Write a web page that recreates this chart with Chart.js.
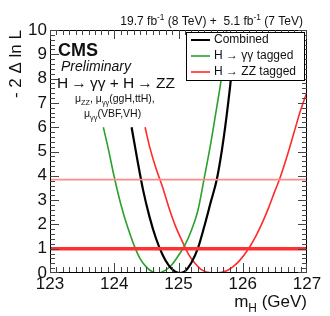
<!DOCTYPE html>
<html>
<head>
<meta charset="utf-8">
<script src="https://cdn.jsdelivr.net/npm/chart.js@4"></script>
<style>
  html, body { margin: 0; padding: 0; background: #fff; }
  #wrap { width: 330px; height: 316px; }
</style>
</head>
<body>
<div id="wrap"><canvas id="nllScan" width="330" height="316"></canvas></div>
<script>
// likelihood scan, values
var combinedMass = [124.27, 124.35, 124.45, 124.55, 124.65, 124.75, 124.85, 124.95, 125.02, 125.10, 125.20, 125.30, 125.40, 125.50, 125.60, 125.70, 125.80, 125.88];
var combinedNll  = [6.0, 4.8, 3.4, 2.3, 1.42, 0.76, 0.30, 0.05, 0.0, 0.07, 0.42, 1.0, 1.9, 2.9, 3.9, 5.5, 7.6, 9.6];

var ggMass = [123.83, 123.90, 124.00, 124.10, 124.20, 124.30, 124.40, 124.50, 124.60, 124.67, 124.80, 124.90, 125.00, 125.10, 125.20, 125.30, 125.40, 125.50, 125.60, 125.66, 125.75];
var ggNll  = [6.0, 5.2, 3.95, 2.85, 1.95, 1.2, 0.6, 0.24, 0.04, 0.0, 0.12, 0.35, 0.72, 1.15, 1.75, 2.55, 3.9, 5.3, 6.9, 7.9, 10.0];

var zzMass = [124.48, 124.55, 124.65, 124.75, 124.85, 124.95, 125.05, 125.15, 125.25, 125.35, 125.45, 125.60, 125.75, 125.85, 125.95, 126.09, 126.20, 126.30, 126.40, 126.50, 126.57, 126.70, 126.80, 126.90, 127.00];
var zzNll  = [6.0, 5.2, 4.3, 3.55, 2.7, 1.95, 1.35, 0.8, 0.42, 0.15, 0.03, 0.0, 0.09, 0.26, 0.51, 1.0, 1.5, 2.04, 2.67, 3.37, 3.84, 4.9, 5.8, 6.7, 7.45];

var clLevels = [1, 3.84];   // 68% and 95% CL lines
var massTicks = [123, 124, 125, 126, 127];
var nllTicks = [0, 1, 2, 3, 4, 5, 6, 7, 8, 9, 10];

var legendItems = [
  { label: "Combined", color: "#000000", width: 2 },
  { label: "H \u2192 \u03b3\u03b3 tagged", color: "#2ca02c", width: 1.6 },
  { label: "H \u2192 ZZ tagged", color: "#ff2a2a", width: 1.6 }
];

function toPoints(xs, ys) {
  var pts = [];
  for (var i = 0; i < xs.length; i++) pts.push({ x: xs[i], y: ys[i] });
  return pts;
}

var FONT = "'Liberation Sans', Arial, sans-serif";

// text with a subscript / superscript piece
function richText(ctx, parts, x, y, size) {
  var cx = x;
  parts.forEach(function (p) {
    var s = p.sub || p.sup ? size * 0.7 : size;
    var dy = p.sub ? size * 0.3 : (p.sup ? -size * 0.4 : 0);
    ctx.font = (p.style || "") + " " + s + "px " + FONT;
    ctx.fillText(p.t, cx, y + dy);
    cx += ctx.measureText(p.t).width;
  });
  return cx;
}

function measureRich(ctx, parts, size) {
  var w = 0;
  parts.forEach(function (p) {
    var s = p.sub || p.sup ? size * 0.7 : size;
    ctx.font = (p.style || "") + " " + s + "px " + FONT;
    w += ctx.measureText(p.t).width;
  });
  return w;
}

var rootStyle = {
  id: "rootStyle",
  afterDraw: function (chart) {
    var ctx = chart.ctx;
    var a = chart.chartArea;
    var xs = chart.scales.x, ys = chart.scales.y;
    var L = Math.round(a.left), R = Math.round(a.right) - 1;
    var T = Math.round(a.top), B = Math.round(a.bottom) - 1;
    ctx.save();

    // frame
    ctx.fillStyle = "#000";
    ctx.fillRect(L, T, R - L + 1, 1);
    ctx.fillRect(L, B, R - L + 1, 1);
    ctx.fillRect(L, T, 1, B - T + 1);
    ctx.fillRect(R, T, 1, B - T + 1);

    // ticks on all four sides, pointing inward
    ctx.fillStyle = "#444";
    for (var i = 0; i <= 40; i++) {
      var px = Math.min(R, Math.round(xs.getPixelForValue(massTicks[0] + i * 0.1)));
      var len = i % 10 === 0 ? 9 : 5;
      ctx.fillRect(px, B - len, 1, len);
      ctx.fillRect(px, T, 1, len);
    }
    for (var j = 0; j <= 50; j++) {
      var py = Math.min(B, Math.round(ys.getPixelForValue(j * 0.2)));
      var l2 = j % 5 === 0 ? 9 : 5;
      ctx.fillRect(L, py, l2, 1);
      ctx.fillRect(R - l2 + 1, py, l2, 1);
    }

    // tick labels
    ctx.fillStyle = "#111";
    ctx.font = "17px " + FONT;
    ctx.textAlign = "right";
    ctx.textBaseline = "middle";
    nllTicks.forEach(function (t) {
      ctx.fillText(String(t), a.left - 3, ys.getPixelForValue(t));
    });
    ctx.textAlign = "center";
    ctx.textBaseline = "top";
    massTicks.forEach(function (t) {
      ctx.fillText(String(t), xs.getPixelForValue(t), a.bottom + 3);
    });

    // axis titles
    ctx.textBaseline = "alphabetic";
    ctx.textAlign = "left";
    var xt = [{ t: "m" }, { t: "H", sub: true }, { t: " (GeV)" }];
    var w = measureRich(ctx, xt, 17);
    ctx.fillStyle = "#111";
    richText(ctx, xt, a.right - w, 307, 17);

    ctx.save();
    ctx.translate(21, a.top);
    ctx.rotate(-Math.PI / 2);
    ctx.font = "17px " + FONT;
    ctx.textAlign = "right";
    ctx.fillText("- 2 \u0394 ln L", 0, 0);
    ctx.restore();

    // luminosity label
    ctx.textAlign = "left";
    var lumi = [{ t: "19.7 fb" }, { t: "-1", sup: true }, { t: " (8 TeV) +  5.1 fb" }, { t: "-1", sup: true }, { t: " (7 TeV)" }];
    var lw = measureRich(ctx, lumi, 12);
    richText(ctx, lumi, 303 - lw, 25, 12);

    // CMS labels
    ctx.font = "bold 18px " + FONT;
    ctx.fillText("CMS", 58, 56);
    ctx.font = "italic 14px " + FONT;
    ctx.fillText("Preliminary", 61, 71);
    ctx.font = "15.5px " + FONT;
    ctx.fillText("H\u2009\u2192\u2009\u03b3\u03b3 + H\u2009\u2192\u2009ZZ", 57, 88);
    richText(ctx, [{ t: "\u03bc" }, { t: "ZZ", sub: true }, { t: ", \u03bc" }, { t: "\u03b3\u03b3", sub: true }, { t: "(ggH,ttH)," }], 75, 102, 10.5);
    richText(ctx, [{ t: "\u03bc" }, { t: "\u03b3\u03b3", sub: true }, { t: "(VBF,VH)" }], 84, 117, 10.5);

    // legend box drawn over the curves
    var lx = 186, ly = 32, lwid = 118, lh = 48;
    ctx.fillStyle = "#fff";
    ctx.fillRect(lx, ly, lwid, lh);
    ctx.strokeStyle = "#000";
    ctx.lineWidth = 1;
    ctx.strokeRect(lx + 0.5, ly + 0.5, lwid, lh);
    ctx.font = "12px " + FONT;
    ctx.textBaseline = "middle";
    legendItems.forEach(function (it, i) {
      var yy = 40 + i * 16;
      ctx.strokeStyle = it.color;
      ctx.lineWidth = it.width;
      ctx.beginPath();
      ctx.moveTo(191, yy); ctx.lineTo(210, yy);
      ctx.stroke();
      ctx.fillStyle = "#111";
      ctx.fillText(it.label, 214, yy);
    });

    ctx.restore();
  }
};

new Chart("nllScan", {
  type: "line",
  data: {
    datasets: [
      {
        label: "CL 68",
        data: toPoints([123, 127], [clLevels[0], clLevels[0]]),
        borderColor: "#ff3030",
        borderWidth: 3.5,
        order: 0
      },
      {
        label: "CL 95",
        data: toPoints([123, 127], [clLevels[1], clLevels[1]]),
        borderColor: "#ff8a8a",
        borderWidth: 1.8,
        order: 1
      },
      {
        label: legendItems[0].label,
        data: toPoints(combinedMass, combinedNll),
        borderColor: legendItems[0].color,
        borderWidth: 2.2,
        cubicInterpolationMode: "monotone",
        order: 2
      },
      {
        label: legendItems[1].label,
        data: toPoints(ggMass, ggNll),
        borderColor: legendItems[1].color,
        borderWidth: 1.6,
        cubicInterpolationMode: "monotone",
        order: 3
      },
      {
        label: legendItems[2].label,
        data: toPoints(zzMass, zzNll),
        borderColor: legendItems[2].color,
        borderWidth: 1.6,
        cubicInterpolationMode: "monotone",
        order: 4
      }
    ]
  },
  options: {
    responsive: false,
    animation: false,
    parsing: false,
    layout: { padding: { left: 50, right: 23, top: 30, bottom: 43 } },
    elements: { point: { radius: 0 } },
    plugins: {
      legend: { display: false },
      tooltip: { enabled: false }
    },
    scales: {
      x: { type: "linear", min: 123, max: 127, display: false },
      y: { type: "linear", min: 0, max: 10, display: false }
    }
  },
  plugins: [rootStyle]
});
</script>
</body>
</html>
